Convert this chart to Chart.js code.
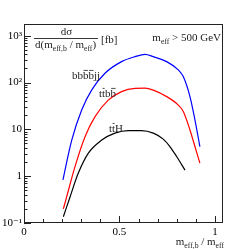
<!DOCTYPE html>
<html>
<head>
<meta charset="utf-8">
<script src="https://cdn.jsdelivr.net/npm/chart.js@4"></script>
<style>
  html, body { margin: 0; padding: 0; background: #fff; }
  canvas { display: block; }
</style>
</head>
<body>
<canvas id="xsec-chart" width="248" height="249"></canvas>
<script>
// values
const bbbbjjX = [0.204, 0.215, 0.25, 0.302, 0.354, 0.424, 0.511, 0.581, 0.634, 0.677, 0.747, 0.808, 0.834, 0.869, 0.895, 0.921];
const bbbbjjY = [0.83, 1.37, 5.9, 26, 69, 158, 280, 357, 400, 357, 280, 186, 134, 50, 16, 4.3];

const ttbbX = [0.206, 0.224, 0.267, 0.319, 0.372, 0.441, 0.511, 0.581, 0.634, 0.677, 0.747, 0.808, 0.834, 0.869, 0.895, 0.921];
const ttbbY = [0.2, 0.37, 1.6, 6.9, 18.7, 42, 64, 75, 76, 69, 50, 33, 24, 9.7, 4.3, 1.9];

const ttHX = [0.206, 0.241, 0.284, 0.337, 0.407, 0.476, 0.546, 0.616, 0.677, 0.729, 0.764, 0.8, 0.843];
const ttHY = [0.136, 0.36, 1.15, 3.1, 5.9, 8.3, 9.4, 9.4, 8.3, 6.2, 4.3, 2.6, 1.35];

const xTickValues = [0, 0.5, 1];
const xTickLabels = ['0', '0.5', '1'];
const yTickValues = [0.1, 1, 10, 100, 1000];
const yTickLabels = ['10\u207B\u00B9', '1', '10', '10\u00B2', '10\u00B3'];

const FONT = '"Liberation Serif", "DejaVu Serif", serif';

function toPoints(xs, ys) {
    return xs.map((x, i) => ({ x: x, y: ys[i] }));
}

// draw a run of text pieces, {t, sub, bar}
function richWidth(ctx, parts, size) {
    let w = 0;
    parts.forEach(p => {
        ctx.font = (p.sub ? size * 0.7 : size) + 'px ' + FONT;
        w += ctx.measureText(p.t).width;
    });
    return w;
}

function drawRich(ctx, x, y, parts, size, align) {
    if (align === 'right') x -= richWidth(ctx, parts, size);
    parts.forEach(p => {
        const s = p.sub ? size * 0.7 : size;
        ctx.font = s + 'px ' + FONT;
        const yy = p.sub ? y + size * 0.3 : y;
        ctx.fillText(p.t, x, yy);
        const w = ctx.measureText(p.t).width;
        if (p.bar) {
            ctx.beginPath();
            ctx.moveTo(x + 0.5, yy - size * 0.78);
            ctx.lineTo(x + w - 0.5, yy - size * 0.78);
            ctx.lineWidth = 0.8;
            ctx.stroke();
        }
        x += w;
    });
}

const framePlugin = {
    id: 'frame',
    afterDraw(chart) {
        const ctx = chart.ctx;
        const a = chart.chartArea;
        const xs = chart.scales.x;
        const ys = chart.scales.y;
        ctx.save();
        ctx.strokeStyle = '#222';
        ctx.fillStyle = '#222';
        ctx.lineWidth = 1;
        ctx.strokeRect(a.left + 0.5, a.top + 0.5, a.right - a.left - 1, a.bottom - a.top - 1);

        // inward ticks, x
        ctx.beginPath();
        for (let i = 0; i <= 10; i++) {
            const v = i / 10;
            const px = Math.round(xs.getPixelForValue(v)) + 0.5;
            const len = (i % 5 === 0) ? 7 : 4;
            ctx.moveTo(px, a.bottom);
            ctx.lineTo(px, a.bottom - len);
        }
        // inward ticks, y (log)
        yTickValues.forEach(d => {
            for (let k = 1; k <= 9; k++) {
                const v = k * d;
                if (v > ys.max) break;
                const py = Math.round(ys.getPixelForValue(v)) + 0.5;
                const len = k === 1 ? 7 : 3.5;
                ctx.moveTo(a.left, py);
                ctx.lineTo(a.left + len, py);
            }
        });
        ctx.stroke();

        ctx.textBaseline = 'alphabetic';
        ctx.textAlign = 'left';
        // y title as a fraction
        drawRich(ctx, 0, 0, [], 11);
        ctx.font = '11px ' + FONT;
        const num = 'd\u03C3';
        const nw = ctx.measureText(num).width;
        ctx.fillText(num, 66.5 - nw / 2, 35);
        ctx.beginPath();
        ctx.moveTo(34, 38.5);
        ctx.lineTo(98, 38.5);
        ctx.lineWidth = 0.9;
        ctx.stroke();
        drawRich(ctx, 35, 48, [
            { t: 'd(m' }, { t: 'eff,b', sub: true }, { t: ' / m' }, { t: 'eff', sub: true }, { t: ')' }
        ], 11);
        drawRich(ctx, 101, 43, [{ t: '[fb]' }], 11);

        drawRich(ctx, 221, 41, [
            { t: 'm' }, { t: 'eff', sub: true }, { t: ' > 500 GeV' }
        ], 11, 'right');

        // curve labels
        drawRich(ctx, 72, 79, [
            { t: 'b' }, { t: 'b' }, { t: 'b', bar: true }, { t: 'b', bar: true }, { t: 'j' }, { t: 'j' }
        ], 11);
        drawRich(ctx, 99, 97, [
            { t: 't' }, { t: 't', bar: true }, { t: 'b' }, { t: 'b', bar: true }
        ], 11);
        drawRich(ctx, 109, 132, [
            { t: 't' }, { t: 't', bar: true }, { t: 'H' }
        ], 11);

        // x title
        drawRich(ctx, 224, 245, [
            { t: 'm' }, { t: 'eff,b', sub: true }, { t: ' / m' }, { t: 'eff', sub: true }
        ], 11, 'right');
        ctx.restore();
    }
};

const ctx = document.getElementById('xsec-chart').getContext('2d');
new Chart(ctx, {
    type: 'line',
    data: {
        datasets: [{
            label: 'bbbbjj',
            data: toPoints(bbbbjjX, bbbbjjY),
            borderColor: '#0000ff'
        }, {
            label: 'ttbb',
            data: toPoints(ttbbX, ttbbY),
            borderColor: '#ff0000'
        }, {
            label: 'ttH',
            data: toPoints(ttHX, ttHY),
            borderColor: '#000000'
        }]
    },
    options: {
        responsive: false,
        devicePixelRatio: 1,
        animation: false,
        layout: { padding: { top: 24, right: 25, left: 0, bottom: 0 } },
        elements: {
            point: { radius: 0 },
            line: { borderWidth: 1.2, cubicInterpolationMode: 'monotone', fill: false }
        },
        plugins: {
            legend: { display: false },
            tooltip: { enabled: false }
        },
        scales: {
            x: {
                type: 'linear',
                min: 0,
                max: 1.042,
                grid: { display: false, drawTicks: false },
                border: { display: false },
                afterFit: s => { s.height = 26; },
                afterBuildTicks: s => { s.ticks = xTickValues.map(v => ({ value: v })); },
                ticks: {
                    padding: 3,
                    color: '#000',
                    font: { family: FONT, size: 11 },
                    maxRotation: 0,
                    callback: v => xTickLabels[xTickValues.indexOf(v)]
                }
            },
            y: {
                type: 'logarithmic',
                min: 0.1,
                max: 1780,
                grid: { display: false, drawTicks: false },
                border: { display: false },
                afterFit: s => { s.width = 24; },
                afterBuildTicks: s => { s.ticks = yTickValues.map(v => ({ value: v })); },
                ticks: {
                    padding: 2,
                    color: '#000',
                    font: { family: FONT, size: 11 },
                    callback: v => yTickLabels[yTickValues.indexOf(v)]
                }
            }
        }
    },
    plugins: [framePlugin]
});
</script>
</body>
</html>
